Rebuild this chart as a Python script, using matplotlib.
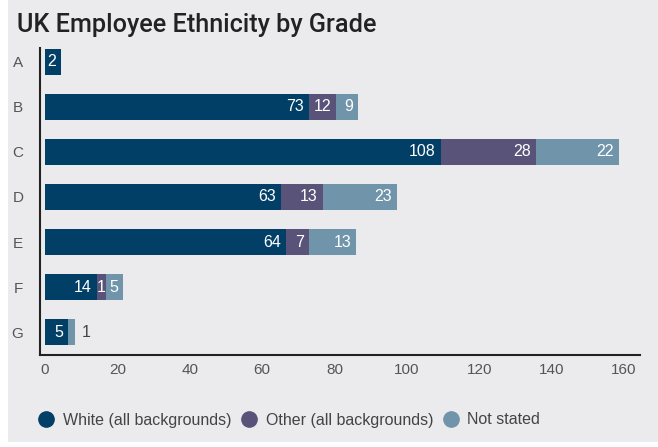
import numpy as np
import matplotlib.pyplot as plt
from matplotlib.patches import Rectangle
from matplotlib.lines import Line2D

plt.rcParams['font.family'] = ['Liberation Sans', 'DejaVu Sans']

# 数据
grades = ['A', 'B', 'C', 'D', 'E', 'F', 'G']
series = ['White (all backgrounds)', 'Other (all backgrounds)', 'Not stated']
# bar lengths as drawn in the picture
white = [4.4, 73, 109.4, 65.2, 66.6, 14.3, 6.4]
other = [0, 7.5, 26.2, 11.6, 6.4, 2.5, 0]
notstated = [0, 6, 22.9, 20.4, 13, 4.7, 2]
# printed labels
white_lab = ['2', '73', '108', '63', '64', '14', '5']
other_lab = ['', '12', '28', '13', '7', '1', '']
notstated_lab = ['', '9', '22', '23', '13', '5', '1']
colors = ['#023f66', '#5a5379', '#7094a9']
bg = '#ebebed'

fig = plt.figure(figsize=(6.58, 4.47), dpi=100, facecolor='white')
fig.patches.append(Rectangle((8 / 658, 5 / 447), 1, 1, transform=fig.transFigure,
                             facecolor=bg, edgecolor='none', zorder=-10))
ax = fig.add_axes([40 / 658, 1 - 355 / 447, 600 / 658, 307 / 447])
ax.set_facecolor(bg)

y = np.arange(len(grades))
left = np.zeros(len(grades))
px = 600 / (164.4 + 1.4)  # pixels per unit
for vals, labs, c in zip([white, other, notstated], [white_lab, other_lab, notstated_lab], colors):
    vals = np.array(vals)
    ax.barh(y, vals, left=left, height=0.58, color=c, edgecolor='none')
    for i in range(len(grades)):
        if labs[i] == '':
            continue
        w = vals[i] * px
        if w < 8:
            ax.text(left[i] + vals[i] + 6 / px, y[i], labs[i], ha='left', va='center',
                    color='#444444', fontsize=11.5)
        elif w < 12:
            ax.text(left[i] + vals[i] / 2, y[i], labs[i], ha='center', va='center',
                    color='white', fontsize=11.5)
        else:
            ax.text(left[i] + vals[i] - 5 / px, y[i], labs[i], ha='right', va='center',
                    color='white', fontsize=11.5)
    left = left + vals

ax.set_xlim(-1.4, 164.4)
ax.set_ylim(6.51, -0.31)
ax.set_yticks(y)
ax.set_yticklabels(grades)
ax.set_xticks(np.arange(0, 161, 20))
ax.tick_params(length=0, labelsize=11, labelcolor='#555555')
ax.tick_params(axis='y', pad=12)
ax.tick_params(axis='x', pad=6)
for s in ['top', 'right']:
    ax.spines[s].set_visible(False)
for s in ['left', 'bottom']:
    ax.spines[s].set_color('#222222')
    ax.spines[s].set_linewidth(1.5)

fig.text(17 / 658, 1 - 25 / 447, 'UK Employee Ethnicity by Grade', fontsize=18.2,
         family=['Roboto', 'Liberation Sans'], weight='medium',
         color='#222222', va='center', ha='left')

handles = [Line2D([], [], marker='o', linestyle='none', markersize=11, color=c) for c in colors]
fig.legend(handles, series, loc='center left', bbox_to_anchor=(22 / 658, 1 - 420 / 447),
           ncol=3, frameon=False, fontsize=11.5, handletextpad=0.45, columnspacing=0.5,
           handlelength=1.2, labelcolor='#444444')

plt.savefig('out.png', dpi=100, facecolor=fig.get_facecolor())
